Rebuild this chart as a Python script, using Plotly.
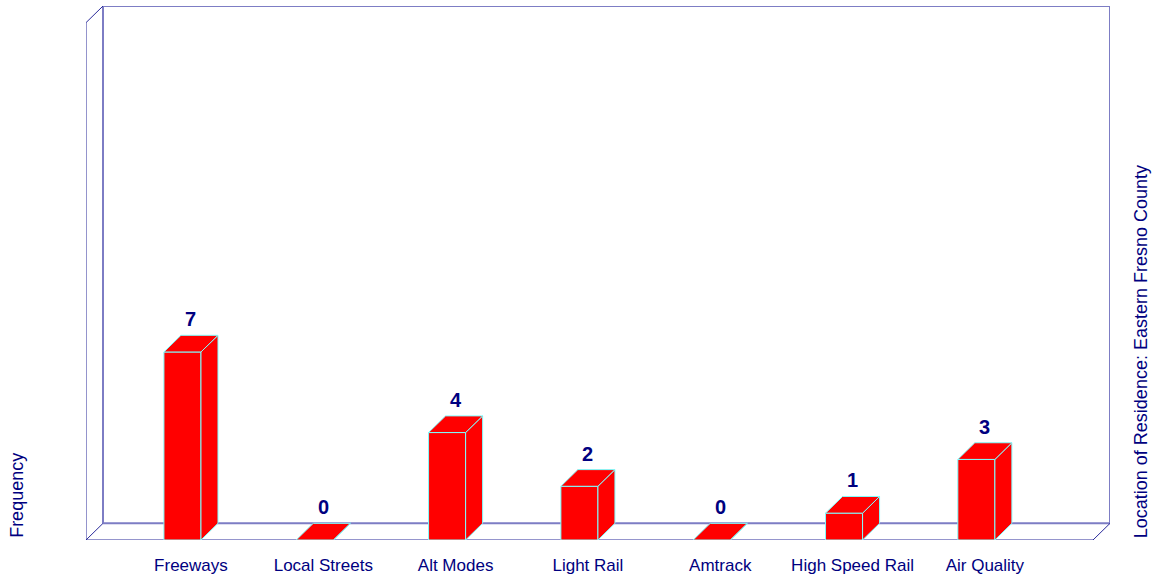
import plotly.graph_objects as go

categories = ["Freeways", "Local Streets", "Alt Modes", "Light Rail",
              "Amtrack", "High Speed Rail", "Air Quality"]
frequency = [7, 0, 4, 2, 0, 1, 3]

NAVY = "#000080"
RED = "#ff0000"
EDGE = "#7fffff"
FONT = "Liberation Sans, Arial, sans-serif"

# axis ranges and pseudo-3D depth (data units)
x0, x1 = -0.729, 7.01
y0, y1 = 0, 19.88
dx, dy = 0.1285, 0.62
bw = 0.28

fig = go.Figure()

# front faces
fig.add_trace(go.Bar(
    x=list(range(len(categories))), y=frequency, width=bw,
    marker=dict(color=RED, line=dict(color=EDGE, width=1)),
    hoverinfo="skip", showlegend=False,
))

# top and side faces
for i, v in enumerate(frequency):
    l, r = i - bw / 2, i + bw / 2
    fig.add_trace(go.Scatter(
        x=[r, r + dx, r + dx, r, r], y=[0, dy, v + dy, v, 0],
        mode="lines", fill="toself", fillcolor=RED,
        line=dict(color=EDGE, width=1), hoverinfo="skip", showlegend=False))
    fig.add_trace(go.Scatter(
        x=[l, l + dx, r + dx, r, l], y=[v, v + dy, v + dy, v, v],
        mode="lines", fill="toself", fillcolor=RED,
        line=dict(color=EDGE, width=1), hoverinfo="skip", showlegend=False))

# value labels
for i, v in enumerate(frequency):
    fig.add_annotation(x=i + dx / 2, y=v + dy, text=str(v), showarrow=False,
                       xanchor="center", yanchor="bottom", yshift=3,
                       font=dict(family=FONT, size=20, color=NAVY, weight="bold"))

# 3D frame
back = dict(color="#7d7dc4", width=2)
front = dict(color="#2a2a9a", width=1)
frame = [
    (x0 + dx, dy, x1, dy, back),
    (x0 + dx, dy, x0 + dx, y1, back),
    (x0 + dx, y1, x1, y1, back),
    (x1, dy, x1, y1, back),
    (x0, y0, x1 - dx, y0, front),
    (x0, y0, x0, y1 - dy, front),
    (x0, y1 - dy, x0 + dx, y1, front),
    (x0, y0, x0 + dx, dy, front),
    (x1 - dx, y0, x1, dy, front),
]
for xa, ya, xb, yb, ln in frame:
    fig.add_shape(type="line", x0=xa, y0=ya, x1=xb, y1=yb, xref="x", yref="y",
                  line=ln, layer="below")

fig.add_annotation(text="Frequency", xref="paper", yref="paper", x=-0.068, y=0,
                   xanchor="center", yanchor="bottom", textangle=-90, showarrow=False,
                   font=dict(family=FONT, size=18, color=NAVY))
fig.add_annotation(text="Location of Residence: Eastern Fresno County",
                   xref="paper", yref="paper", x=1.030, y=0,
                   xanchor="center", yanchor="bottom", textangle=-90, showarrow=False,
                   font=dict(family=FONT, size=18, color=NAVY))

fig.update_layout(
    width=1154, height=579,
    margin=dict(l=86, r=44, t=6, b=39),
    plot_bgcolor="white", paper_bgcolor="white",
    xaxis=dict(range=[x0, x1], showgrid=False, zeroline=False, showline=False,
               tickvals=[i + dx / 2 for i in range(len(categories))],
               ticktext=categories, ticks="", ticklabelstandoff=13, automargin=False,
               tickfont=dict(family=FONT, size=17, color=NAVY)),
    yaxis=dict(range=[y0, y1], showgrid=False, zeroline=False, showline=False,
               showticklabels=False, automargin=False),
)

fig.write_html("out.html", config={"displayModeBar": False},
               post_script="document.body.style.margin='0';")
